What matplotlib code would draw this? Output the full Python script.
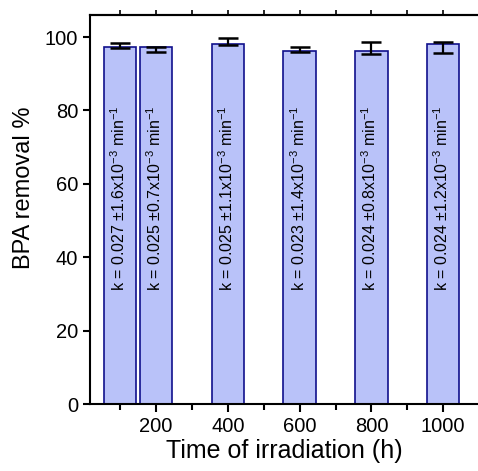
import matplotlib
matplotlib.use('Agg')
import matplotlib.pyplot as plt
from matplotlib.ticker import MultipleLocator

plt.rcParams['font.family'] = ['Liberation Sans', 'DejaVu Sans']
plt.rcParams['mathtext.fontset'] = 'custom'
plt.rcParams['mathtext.rm'] = 'Liberation Sans'
plt.rcParams['mathtext.it'] = 'Liberation Sans'

# --- data ---
hours = [100, 200, 400, 600, 800, 1000]
removal = [97.3, 97.3, 98.2, 96.3, 96.3, 98.2]
err_low = [96.9, 96.0, 97.8, 95.9, 95.5, 95.6]
err_high = [98.5, 97.4, 99.6, 97.4, 98.7, 98.7]
k_labels = [
    r'k = 0.027 ±1.6x10$^{-3}$ min$^{-1}$',
    r'k = 0.025 ±0.7x10$^{-3}$ min$^{-1}$',
    r'k = 0.025 ±1.1x10$^{-3}$ min$^{-1}$',
    r'k = 0.023 ±1.4x10$^{-3}$ min$^{-1}$',
    r'k = 0.024 ±0.8x10$^{-3}$ min$^{-1}$',
    r'k = 0.024 ±1.2x10$^{-3}$ min$^{-1}$',
]

yerr = [[r - lo for r, lo in zip(removal, err_low)],
        [hi - r for r, hi in zip(removal, err_high)]]

fig = plt.figure(figsize=(4.78, 4.71), dpi=100)
ax = fig.add_axes([90 / 478, 67 / 471, 1 - 90 / 478, 389 / 471])

ax.bar(hours, removal, width=90, color='#b9c2f9', edgecolor='#10108c',
       linewidth=1.2, zorder=2)
ax.errorbar(hours, removal, yerr=yerr, fmt='none', ecolor='black',
            elinewidth=1.6, capsize=7.5, capthick=1.8, zorder=3)

for x, lab in zip(hours, k_labels):
    ax.text(x - 4, 56, lab, rotation=90, ha='center', va='center', fontsize=11.5)

ax.set_xlim(16, 1097)
ax.set_ylim(0, 106)
ax.xaxis.set_major_locator(MultipleLocator(200))
ax.xaxis.set_minor_locator(MultipleLocator(100))
ax.yaxis.set_major_locator(MultipleLocator(20))

ax.spines['right'].set_visible(False)
for s in ['left', 'bottom', 'top']:
    ax.spines[s].set_linewidth(1.5)

ax.tick_params(axis='x', which='major', direction='out', length=6, width=1.5,
               labelsize=14.5)
ax.tick_params(axis='x', which='minor', direction='out', length=4, width=1.5)
ax.tick_params(axis='y', which='major', direction='out', length=5, width=1.5,
               labelsize=14.5)

# tiny tick marks on the top spine
top = ax.secondary_xaxis('top')
top.xaxis.set_major_locator(MultipleLocator(100))
top.tick_params(axis='x', which='major', top=True, bottom=False, direction='out',
                length=3.5, width=1.2, labeltop=False, color='black')
top.spines['top'].set_linewidth(1.5)

ax.set_xlabel('Time of irradiation (h)', fontsize=18, labelpad=2)
ax.set_ylabel('BPA removal %', fontsize=17)
ax.yaxis.set_label_coords(-0.142, 0.555)

fig.savefig('out.png', dpi=100)
